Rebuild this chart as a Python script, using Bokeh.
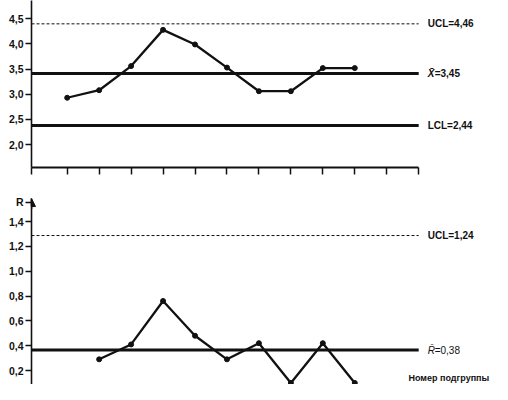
from bokeh.plotting import figure
from bokeh.layouts import column
from bokeh.models import FixedTicker, CustomJSTickFormatter, Arrow, NormalHead
from bokeh.core.properties import value
from bokeh.embed import file_html
from bokeh.resources import INLINE

# ---- data ----
subgroups = [1, 2, 3, 4, 5, 6, 7, 8, 9, 10]
xbar_values = [2.93, 3.08, 3.56, 4.28, 3.99, 3.53, 3.06, 3.06, 3.52, 3.52]
range_subgroups = [2, 3, 4, 5, 6, 7, 8, 9, 10]
range_values = [0.29, 0.41, 0.76, 0.48, 0.29, 0.42, 0.10, 0.42, 0.10]

x_ticks = [1, 2, 3, 4, 5, 6, 7, 8, 9, 10, 11, 12]
xbar_ticks = [2.0, 2.5, 3.0, 3.5, 4.0, 4.5]
r_ticks = [0.2, 0.4, 0.6, 0.8, 1.0, 1.2, 1.4]
r_name_tick = 1.557

# control lines (as drawn) and their captions
xbar_ucl, xbar_cl, xbar_lcl = 4.40, 3.41, 2.38
xbar_ucl_label, xbar_cl_sym, xbar_cl_label, xbar_lcl_label = "UCL=4,46", "X\u0304", "=3,45", "LCL=2,44"
r_ucl, r_cl = 1.287, 0.365
r_ucl_label, r_cl_sym, r_cl_label = "UCL=1,24", "R\u0304", "=0,38"
r_axis_label = "R"
x_axis_title = "Номер подгруппы"
x_title_pos = (11.68, 0.136)

X_START, X_END = -0.117, 14.31
FONT = "Liberation Sans"
INK = "#111111"

fmt = CustomJSTickFormatter(code="return tick.toFixed(1).replace('.', ',');")
blank = CustomJSTickFormatter(code="return '';")


def style_common(p):
    p.outline_line_color = None
    p.xgrid.visible = False
    p.ygrid.visible = False
    p.background_fill_color = "white"
    p.border_fill_color = "white"


def style_yaxis(ax, ticks):
    ax.ticker = FixedTicker(ticks=ticks)
    ax.formatter = fmt
    ax.major_tick_out = 6
    ax.major_tick_in = 0
    ax.minor_tick_out = 0
    ax.minor_tick_in = 0
    ax.major_label_standoff = 2
    ax.major_label_text_font = FONT
    ax.major_label_text_font_style = "bold"
    ax.major_label_text_font_size = "10.5px"
    ax.major_label_text_color = INK
    ax.axis_line_width = 1.6
    ax.axis_line_color = INK
    ax.major_tick_line_width = 1.5
    ax.major_tick_line_color = INK


def caption(p, y, text, offset, style, size="10px"):
    p.text([max(x_ticks)], [y], text=[text], x_offset=offset, text_baseline="middle",
           text_font=value(FONT), text_font_style=style, text_font_size=size, text_color=INK)


# ---------------- X-bar chart ----------------
p1 = figure(width=492, height=188, x_range=(X_START, X_END), y_range=(1.543, 4.864),
            output_backend="svg", toolbar_location=None,
            min_border_left=31, min_border_right=0, min_border_top=0, min_border_bottom=21)
style_common(p1)
style_yaxis(p1.yaxis[0], xbar_ticks)
xa = p1.xaxis[0]
xa.ticker = FixedTicker(ticks=[X_START] + x_ticks)
xa.formatter = blank
xa.bounds = (X_START, max(x_ticks))
xa.major_tick_out = 7
xa.major_tick_in = 0
xa.minor_tick_out = 0
xa.minor_tick_in = 0
xa.major_label_standoff = 0
xa.major_label_text_font_size = "1px"
xa.axis_line_width = 2
xa.axis_line_color = INK
xa.major_tick_line_width = 1.5
xa.major_tick_line_color = INK

x_line = [X_START, max(x_ticks)]
p1.line(x_line, [xbar_ucl, xbar_ucl], line_color=INK, line_width=1, line_dash="3 2")
p1.line(x_line, [xbar_cl, xbar_cl], line_color=INK, line_width=3)
p1.line(x_line, [xbar_lcl, xbar_lcl], line_color=INK, line_width=3)

p1.line(subgroups, xbar_values, line_color=INK, line_width=2.3)
p1.scatter(subgroups, xbar_values, size=5, color=INK)

caption(p1, xbar_ucl, xbar_ucl_label, 9, "bold")
caption(p1, xbar_cl, xbar_cl_sym, 9, "bold italic")
caption(p1, xbar_cl, xbar_cl_label, 16, "bold")
caption(p1, xbar_lcl, xbar_lcl_label, 9, "bold")

# ---------------- R chart ----------------
p2 = figure(width=492, height=196, x_range=(X_START, X_END), y_range=(0.0873, 1.6497),
            output_backend="svg", toolbar_location=None, x_axis_location=None,
            min_border_left=31, min_border_right=0, min_border_top=2, min_border_bottom=0)
style_common(p2)
ya2 = p2.yaxis[0]
style_yaxis(ya2, r_ticks + [r_name_tick])
ya2.major_label_overrides = {r_name_tick: r_axis_label}
ya2.bounds = (0.0873, 1.585)
p2.add_layout(Arrow(end=NormalHead(size=8, fill_color=INK, line_color=INK, line_width=1),
                    x_start=X_START, y_start=1.50, x_end=X_START, y_end=1.585,
                    line_color=INK, line_width=1.6))

p2.line(x_line, [r_ucl, r_ucl], line_color=INK, line_width=1, line_dash="3 2")
p2.line(x_line, [r_cl, r_cl], line_color=INK, line_width=3)

p2.line(range_subgroups, range_values, line_color=INK, line_width=2.3)
p2.scatter(range_subgroups, range_values, size=5, color=INK)

caption(p2, r_ucl, r_ucl_label, 9, "bold")
caption(p2, r_cl, r_cl_sym, 9, "italic")
caption(p2, r_cl, r_cl_label, 16, "normal")
p2.text([x_title_pos[0]], [x_title_pos[1]], text=[x_axis_title], text_baseline="middle",
        text_font=value(FONT), text_font_style="bold", text_font_size="9px", text_color=INK)

layout = column(p1, p2, spacing=0)
open("out.html", "w").write(file_html(layout, INLINE))
